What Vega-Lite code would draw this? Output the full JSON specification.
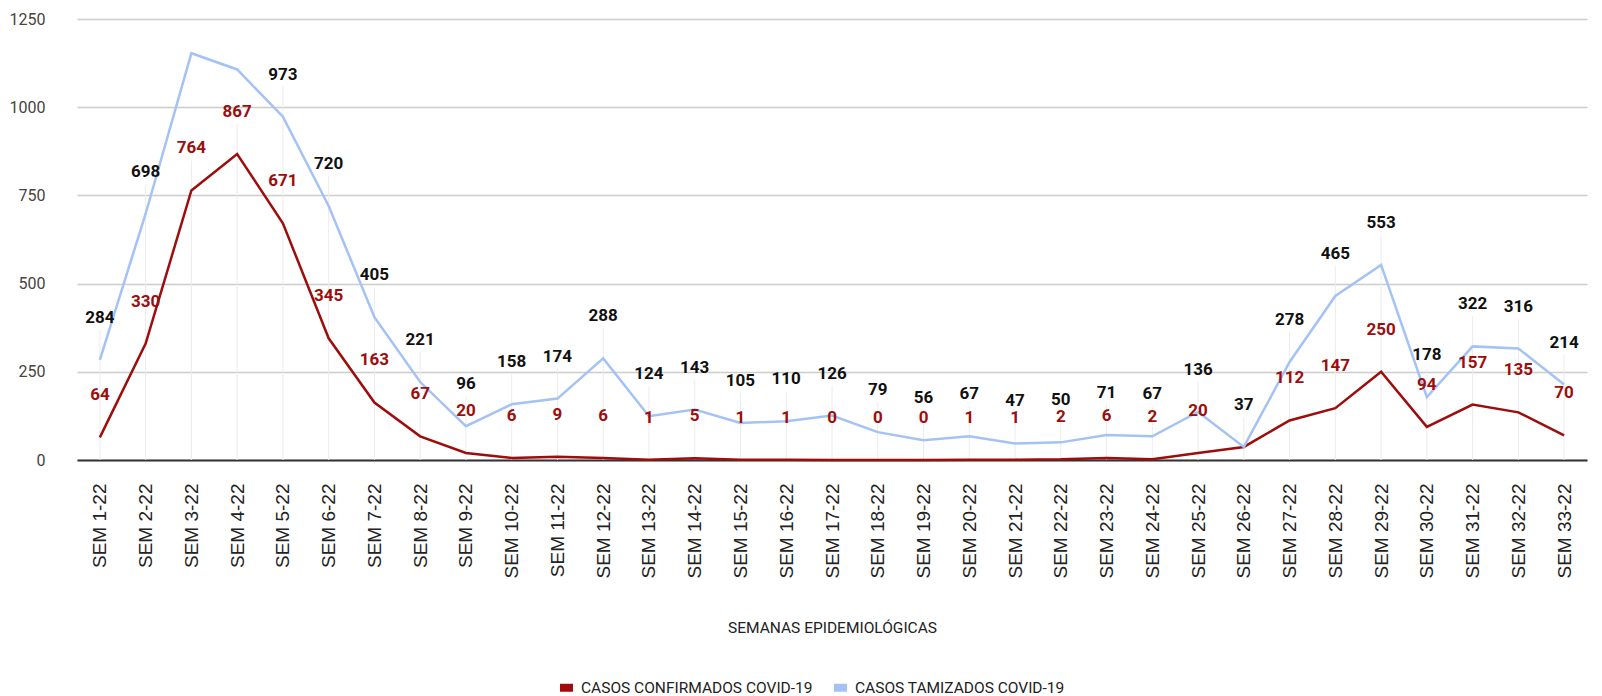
{
  "$schema": "https://vega.github.io/schema/vega-lite/v6.json",
  "autosize": {"type": "none"},
  "padding": {"left": 53, "top": 19, "right": 0, "bottom": 236},
  "width": 1549,
  "height": 441,
  "background": "white",
  "config": {
    "view": {"stroke": null},
    "axis": {"labelFont": "Roboto", "titleFont": "Roboto"},
    "legend": {"labelFont": "Roboto"}
  },
  "data": {
    "values": [
      {"week": "SEM 1-22", "serie": "CASOS CONFIRMADOS COVID-19", "value": 64},
      {"week": "SEM 2-22", "serie": "CASOS CONFIRMADOS COVID-19", "value": 330},
      {"week": "SEM 3-22", "serie": "CASOS CONFIRMADOS COVID-19", "value": 764},
      {"week": "SEM 4-22", "serie": "CASOS CONFIRMADOS COVID-19", "value": 867},
      {"week": "SEM 5-22", "serie": "CASOS CONFIRMADOS COVID-19", "value": 671},
      {"week": "SEM 6-22", "serie": "CASOS CONFIRMADOS COVID-19", "value": 345},
      {"week": "SEM 7-22", "serie": "CASOS CONFIRMADOS COVID-19", "value": 163},
      {"week": "SEM 8-22", "serie": "CASOS CONFIRMADOS COVID-19", "value": 67},
      {"week": "SEM 9-22", "serie": "CASOS CONFIRMADOS COVID-19", "value": 20},
      {"week": "SEM 10-22", "serie": "CASOS CONFIRMADOS COVID-19", "value": 6},
      {"week": "SEM 11-22", "serie": "CASOS CONFIRMADOS COVID-19", "value": 9},
      {"week": "SEM 12-22", "serie": "CASOS CONFIRMADOS COVID-19", "value": 6},
      {"week": "SEM 13-22", "serie": "CASOS CONFIRMADOS COVID-19", "value": 1},
      {"week": "SEM 14-22", "serie": "CASOS CONFIRMADOS COVID-19", "value": 5},
      {"week": "SEM 15-22", "serie": "CASOS CONFIRMADOS COVID-19", "value": 1},
      {"week": "SEM 16-22", "serie": "CASOS CONFIRMADOS COVID-19", "value": 1},
      {"week": "SEM 17-22", "serie": "CASOS CONFIRMADOS COVID-19", "value": 0},
      {"week": "SEM 18-22", "serie": "CASOS CONFIRMADOS COVID-19", "value": 0},
      {"week": "SEM 19-22", "serie": "CASOS CONFIRMADOS COVID-19", "value": 0},
      {"week": "SEM 20-22", "serie": "CASOS CONFIRMADOS COVID-19", "value": 1},
      {"week": "SEM 21-22", "serie": "CASOS CONFIRMADOS COVID-19", "value": 1},
      {"week": "SEM 22-22", "serie": "CASOS CONFIRMADOS COVID-19", "value": 2},
      {"week": "SEM 23-22", "serie": "CASOS CONFIRMADOS COVID-19", "value": 6},
      {"week": "SEM 24-22", "serie": "CASOS CONFIRMADOS COVID-19", "value": 2},
      {"week": "SEM 25-22", "serie": "CASOS CONFIRMADOS COVID-19", "value": 20},
      {"week": "SEM 26-22", "serie": "CASOS CONFIRMADOS COVID-19", "value": 37},
      {"week": "SEM 27-22", "serie": "CASOS CONFIRMADOS COVID-19", "value": 112},
      {"week": "SEM 28-22", "serie": "CASOS CONFIRMADOS COVID-19", "value": 147},
      {"week": "SEM 29-22", "serie": "CASOS CONFIRMADOS COVID-19", "value": 250},
      {"week": "SEM 30-22", "serie": "CASOS CONFIRMADOS COVID-19", "value": 94},
      {"week": "SEM 31-22", "serie": "CASOS CONFIRMADOS COVID-19", "value": 157},
      {"week": "SEM 32-22", "serie": "CASOS CONFIRMADOS COVID-19", "value": 135},
      {"week": "SEM 33-22", "serie": "CASOS CONFIRMADOS COVID-19", "value": 70},
      {"week": "SEM 1-22", "serie": "CASOS TAMIZADOS COVID-19", "value": 284},
      {"week": "SEM 2-22", "serie": "CASOS TAMIZADOS COVID-19", "value": 698},
      {"week": "SEM 3-22", "serie": "CASOS TAMIZADOS COVID-19", "value": 1153},
      {"week": "SEM 4-22", "serie": "CASOS TAMIZADOS COVID-19", "value": 1107},
      {"week": "SEM 5-22", "serie": "CASOS TAMIZADOS COVID-19", "value": 973},
      {"week": "SEM 6-22", "serie": "CASOS TAMIZADOS COVID-19", "value": 720},
      {"week": "SEM 7-22", "serie": "CASOS TAMIZADOS COVID-19", "value": 405},
      {"week": "SEM 8-22", "serie": "CASOS TAMIZADOS COVID-19", "value": 221},
      {"week": "SEM 9-22", "serie": "CASOS TAMIZADOS COVID-19", "value": 96},
      {"week": "SEM 10-22", "serie": "CASOS TAMIZADOS COVID-19", "value": 158},
      {"week": "SEM 11-22", "serie": "CASOS TAMIZADOS COVID-19", "value": 174},
      {"week": "SEM 12-22", "serie": "CASOS TAMIZADOS COVID-19", "value": 288},
      {"week": "SEM 13-22", "serie": "CASOS TAMIZADOS COVID-19", "value": 124},
      {"week": "SEM 14-22", "serie": "CASOS TAMIZADOS COVID-19", "value": 143},
      {"week": "SEM 15-22", "serie": "CASOS TAMIZADOS COVID-19", "value": 105},
      {"week": "SEM 16-22", "serie": "CASOS TAMIZADOS COVID-19", "value": 110},
      {"week": "SEM 17-22", "serie": "CASOS TAMIZADOS COVID-19", "value": 126},
      {"week": "SEM 18-22", "serie": "CASOS TAMIZADOS COVID-19", "value": 79},
      {"week": "SEM 19-22", "serie": "CASOS TAMIZADOS COVID-19", "value": 56},
      {"week": "SEM 20-22", "serie": "CASOS TAMIZADOS COVID-19", "value": 67},
      {"week": "SEM 21-22", "serie": "CASOS TAMIZADOS COVID-19", "value": 47},
      {"week": "SEM 22-22", "serie": "CASOS TAMIZADOS COVID-19", "value": 50},
      {"week": "SEM 23-22", "serie": "CASOS TAMIZADOS COVID-19", "value": 71},
      {"week": "SEM 24-22", "serie": "CASOS TAMIZADOS COVID-19", "value": 67},
      {"week": "SEM 25-22", "serie": "CASOS TAMIZADOS COVID-19", "value": 136},
      {"week": "SEM 26-22", "serie": "CASOS TAMIZADOS COVID-19", "value": 37},
      {"week": "SEM 27-22", "serie": "CASOS TAMIZADOS COVID-19", "value": 278},
      {"week": "SEM 28-22", "serie": "CASOS TAMIZADOS COVID-19", "value": 465},
      {"week": "SEM 29-22", "serie": "CASOS TAMIZADOS COVID-19", "value": 553},
      {"week": "SEM 30-22", "serie": "CASOS TAMIZADOS COVID-19", "value": 178},
      {"week": "SEM 31-22", "serie": "CASOS TAMIZADOS COVID-19", "value": 322},
      {"week": "SEM 32-22", "serie": "CASOS TAMIZADOS COVID-19", "value": 316},
      {"week": "SEM 33-22", "serie": "CASOS TAMIZADOS COVID-19", "value": 214}
    ]
  },
  "encoding": {
    "x": {
      "field": "week", "type": "ordinal",
      "sort": ["SEM 1-22", "SEM 2-22", "SEM 3-22", "SEM 4-22", "SEM 5-22", "SEM 6-22", "SEM 7-22", "SEM 8-22", "SEM 9-22", "SEM 10-22", "SEM 11-22", "SEM 12-22", "SEM 13-22", "SEM 14-22", "SEM 15-22", "SEM 16-22", "SEM 17-22", "SEM 18-22", "SEM 19-22", "SEM 20-22", "SEM 21-22", "SEM 22-22", "SEM 23-22", "SEM 24-22", "SEM 25-22", "SEM 26-22", "SEM 27-22", "SEM 28-22", "SEM 29-22", "SEM 30-22", "SEM 31-22", "SEM 32-22", "SEM 33-22"],
      "scale": {"type": "point", "range": [24, 1534]},
      "axis": {
        "title": "SEMANAS EPIDEMIOLÓGICAS",
        "titleFontSize": 15.5, "titleFontWeight": "normal", "titleColor": "#222",
        "titleY": 167, "titleBaseline": "middle",
        "labelAngle": 270, "labelFont": "Liberation Sans, Arial, Roboto", "labelFontSize": 19, "labelColor": "#222",
        "labelPadding": 23, "ticks": false, "grid": false,
        "domain": true, "domainColor": "#333", "domainWidth": 2
      }
    },
    "y": {
      "field": "value", "type": "quantitative",
      "scale": {"domain": [0, 1250], "nice": false},
      "axis": {
        "title": null, "values": [0, 250, 500, 750, 1000, 1250], "format": "d",
        "labelFontSize": 16, "labelColor": "#444", "labelPadding": 8,
        "ticks": false, "domain": false, "gridColor": "#cccccc", "gridWidth": 1.5
      }
    }
  },
  "layer": [
    {
      "transform": [{"filter": "(datum.serie == 'CASOS TAMIZADOS COVID-19' && datum.week != 'SEM 3-22' && datum.week != 'SEM 4-22') || (datum.serie == 'CASOS CONFIRMADOS COVID-19' && (datum.week == 'SEM 3-22' || datum.week == 'SEM 4-22'))"}],
      "mark": {"type": "rule", "color": "#ececec", "strokeWidth": 1, "y2Offset": -30},
      "encoding": {"y": {"datum": 0}, "y2": {"field": "value"}}
    },
    {
      "mark": {"type": "line", "strokeWidth": 2.5},
      "encoding": {
        "color": {
          "field": "serie", "type": "nominal",
          "scale": {"domain": ["CASOS CONFIRMADOS COVID-19", "CASOS TAMIZADOS COVID-19"], "range": ["#9e0c0c", "#a4c2f4"]},
          "legend": {
            "title": null, "orient": "none", "direction": "horizontal",
            "legendX": 503, "legendY": 658, "padding": 0, "labelLimit": 0,
            "symbolType": "stroke", "symbolSize": 169, "symbolStrokeWidth": 8,
            "labelFontSize": 15.5, "labelColor": "#222", "labelOffset": 4, "columnPadding": 5
          }
        }
      }
    },
    {
      "transform": [{"filter": "datum.serie == 'CASOS CONFIRMADOS COVID-19' && datum.week != 'SEM 26-22'"}],
      "mark": {"type": "text", "dy": -42, "baseline": "middle", "align": "center", "font": "Roboto", "fontWeight": "bold", "fontSize": 17, "color": "#9b0e0e"},
      "encoding": {"text": {"field": "value", "type": "quantitative"}}
    },
    {
      "transform": [{"filter": "datum.serie == 'CASOS TAMIZADOS COVID-19' && datum.week != 'SEM 3-22' && datum.week != 'SEM 4-22'"}],
      "mark": {"type": "text", "dy": -42, "baseline": "middle", "align": "center", "font": "Roboto", "fontWeight": "bold", "fontSize": 17, "color": "#111"},
      "encoding": {"text": {"field": "value", "type": "quantitative"}}
    }
  ]
}
